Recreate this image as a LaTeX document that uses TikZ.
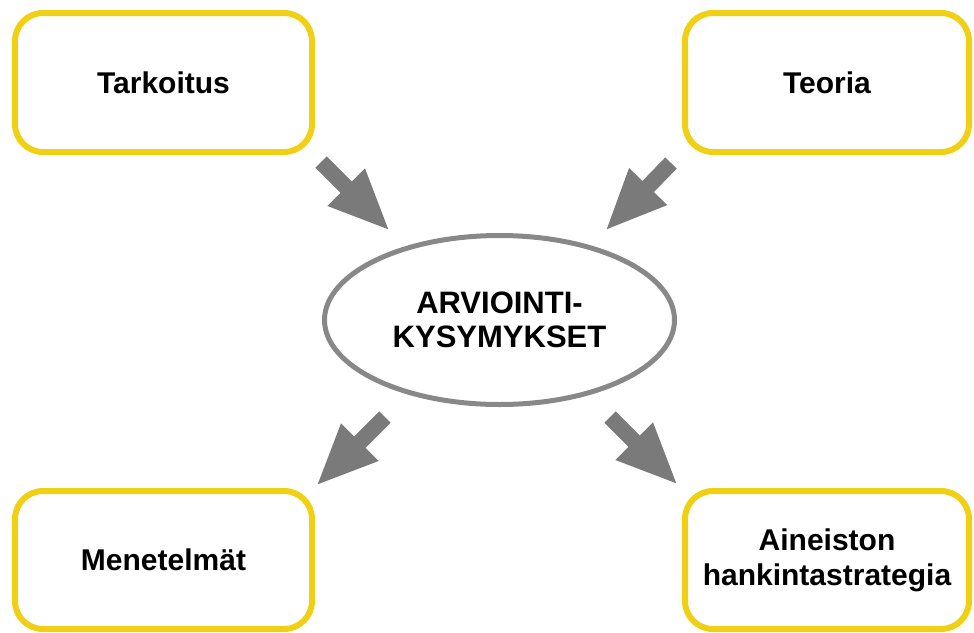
\documentclass[tikz,border=0pt]{standalone}
\usepackage{fontspec}
\setmainfont{Liberation Sans}
\usetikzlibrary{arrows.meta,shapes.geometric}
\definecolor{boxyellow}{RGB}{240,208,20}
\definecolor{arrgray}{RGB}{122,122,122}
\definecolor{ellgray}{RGB}{136,136,136}
\tikzset{
  yelbox/.style={draw=boxyellow, line width=6pt, rounded corners=28pt, fill=white,
    align=center, inner sep=0pt, font=\fontsize{30}{35}\selectfont\bfseries},
  centre/.style={ellipse, draw=ellgray, line width=5pt, fill=white, inner sep=0pt,
    minimum width=350pt, minimum height=169pt, align=center,
    font=\fontsize{31}{34}\selectfont\bfseries},
  blockarrow/.style={draw=arrgray, line width=16pt,
    -{Triangle[length=62pt,width=48pt]}, arrgray}
}
\begin{document}
\begin{tikzpicture}[x=1pt,y=-1pt]
\useasboundingbox (0,0) rectangle (974,632);
\node[yelbox, minimum width=297pt, minimum height=139pt] (tl) at (163.5,82.5) {Tarkoitus};
\node[yelbox, minimum width=284pt, minimum height=139pt] (tr) at (827,82.5) {Teoria};
\node[yelbox, minimum width=297pt, minimum height=138pt] (bl) at (163.5,560) {Menetelmät};
\node[yelbox, minimum width=284pt, minimum height=138pt] (br) at (827,560) {Aineiston\\hankintastrategia};
\node[centre] (c) at (499.5,320) {ARVIOINTI-\\KYSYMYKSET};
\coordinate (a1s) at (321,162); \coordinate (a1e) at (390,231);
\coordinate (a2s) at (671,163); \coordinate (a2e) at (605,231);
\coordinate (a3s) at (385,417); \coordinate (a3e) at (316,486);
\coordinate (a4s) at (610,417); \coordinate (a4e) at (678,485);
\draw[blockarrow] (a1s) -- (a1e);
\draw[blockarrow] (a2s) -- (a2e);
\draw[blockarrow] (a3s) -- (a3e);
\draw[blockarrow] (a4s) -- (a4e);
\end{tikzpicture}
\end{document}
